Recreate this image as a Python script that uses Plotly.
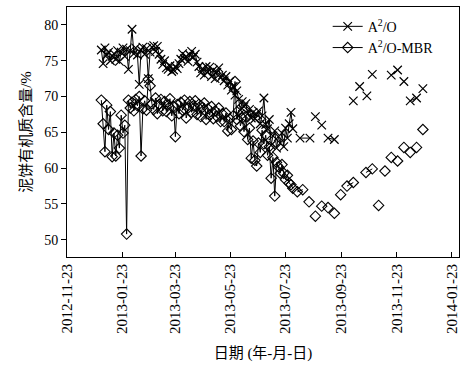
import pandas as pd
import plotly.graph_objects as go

# Dense period: sampled every 2 days starting 2012-12-31
dense_start = "2012-12-31"
dense_step_days = 2
a2o_dense = [
    76.5, 74.6, 76.8, 75.8, 76.2, 75.0, 75.6, 76.0, 75.2, 76.4,
    74.9, 76.2, 76.8, 75.6, 76.6, 73.8, 76.4, 79.4, 76.0, 76.8,
    75.8, 71.7, 76.5, 76.9, 75.9, 76.7, 72.5, 76.2, 76.9, 77.1,
    76.3, 77.0, 75.9, 75.2, 74.5, 75.0, 74.0, 73.8, 74.3, 73.5,
    73.7, 74.2, 73.9, 74.6, 75.2, 76.0, 75.3, 75.6, 74.9, 75.8,
    76.3, 75.5, 75.9, 74.8, 74.2, 73.3, 73.9, 73.0, 74.2, 73.4,
    74.1, 72.8, 73.7, 72.5, 73.4, 74.0, 72.6, 73.0, 72.2, 72.8,
    71.6, 72.1, 70.9, 71.4, 70.2, 70.8, 69.6, 68.1, 69.3, 68.6,
    69.0, 67.6, 68.2, 67.0, 67.8, 66.9, 67.5, 68.0, 66.2, 67.3,
    69.8, 66.1, 65.5, 66.8, 63.2, 64.5, 65.2, 62.8, 64.4, 63.5,
    64.9, 63.0, 65.6, 64.2, 66.2, 67.8, 65.5,
]
mbr_dense = [
    69.5, 66.2, 62.3, 68.8, 65.4, 67.9, 61.6, 64.9, 61.7, 64.6,
    62.8, 67.4, 64.9, 66.0, 50.8, 69.5, 68.4, 69.2, 68.0, 69.6,
    68.7, 70.0, 61.7, 68.3, 69.4, 68.1, 72.4, 71.5, 69.0, 68.2,
    69.8, 67.6, 68.9, 69.6, 68.0, 69.3, 67.9, 68.8, 69.7, 67.3,
    68.6, 64.4, 68.9, 67.6, 69.2, 68.1, 69.5, 67.0, 68.4, 69.3,
    67.8, 68.7, 69.4, 67.5, 68.9, 67.2, 68.5, 69.1, 66.8, 68.3,
    67.4, 68.6, 66.9, 68.0, 67.2, 68.4, 66.5, 67.6, 66.5, 67.7,
    65.2, 66.9, 65.4, 67.3, 72.1, 66.8, 68.1, 65.9, 67.0, 65.1,
    67.2, 64.0, 65.6, 61.4, 63.8, 61.1, 60.3, 63.5, 62.2, 65.3,
    63.4, 64.6, 61.8, 63.0, 58.6, 61.5, 56.1, 60.8, 60.2, 59.3,
    60.5, 59.3, 58.4, 59.0, 57.9, 57.7, 57.2,
]

# Sparse period (None breaks the line between unconnected samples)
a2o_sparse_dates = ["2013-08-08", "2013-08-19", None, "2013-08-25", None, "2013-09-01", None,
                    "2013-09-08", "2013-09-15", None, "2013-10-06", None, "2013-10-13", None,
                    "2013-10-21", None, "2013-10-27", None, "2013-11-17", "2013-11-24", None,
                    "2013-12-01", None, "2013-12-08", "2013-12-15", None, "2013-12-22"]
a2o_sparse = [64.2, 64.2, None, 67.2, None, 66.0, None,
              64.2, 64.0, None, 69.4, None, 71.4, None,
              70.1, None, 73.1, None, 73.0, 73.7, None,
              72.1, None, 69.4, 69.8, None, 71.1]

mbr_sparse_dates = ["2013-08-05", "2013-08-11", None, "2013-08-18", None, "2013-08-25", None,
                    "2013-09-01", None, "2013-09-08", None, "2013-09-15", None, "2013-09-22", None,
                    "2013-09-29", "2013-10-06", None, "2013-10-20", "2013-10-27", None,
                    "2013-11-03", None, "2013-11-10", None, "2013-11-17", None, "2013-11-24", None,
                    "2013-12-01", None, "2013-12-08", None, "2013-12-15", None, "2013-12-22"]
mbr_sparse = [56.7, 57.0, None, 55.3, None, 53.3, None,
              54.7, None, 54.5, None, 53.7, None, 56.3, None,
              57.5, 58.0, None, 59.4, 59.9, None,
              54.8, None, 59.6, None, 61.5, None, 61.0, None,
              62.9, None, 62.2, None, 62.9, None, 65.4]

tick_dates = ["2012-11-23", "2013-01-23", "2013-03-23", "2013-05-23",
              "2013-07-23", "2013-09-23", "2013-11-23", "2014-01-23"]
y_ticks = [50, 55, 60, 65, 70, 75, 80]

dense_dates = [d.strftime("%Y-%m-%d") for d in
               pd.date_range(dense_start, periods=len(a2o_dense), freq=f"{dense_step_days}D")]

a2o_x = dense_dates + [None] + a2o_sparse_dates
a2o_y = a2o_dense + [None] + a2o_sparse
mbr_x = dense_dates + [None] + mbr_sparse_dates
mbr_y = mbr_dense + [None] + mbr_sparse

serif = "Liberation Serif, Times New Roman, Noto Sans CJK SC, serif"

fig = go.Figure()
fig.add_trace(go.Scatter(
    x=a2o_x, y=a2o_y, mode="lines+markers", name="A<sup>2</sup>/O",
    line=dict(color="black", width=1), connectgaps=False,
    marker=dict(symbol="x-thin-open", size=8.5, color="black",
                line=dict(color="black", width=1.2)),
))
fig.add_trace(go.Scatter(
    x=mbr_x, y=mbr_y, mode="lines+markers", name="A<sup>2</sup>/O-MBR",
    line=dict(color="black", width=1), connectgaps=False,
    marker=dict(symbol="diamond-open", size=8, color="black",
                line=dict(color="black", width=1.1)),
))

fig.update_layout(
    width=473, height=367,
    margin=dict(l=67, r=14, t=7, b=110),
    paper_bgcolor="white", plot_bgcolor="white",
    font=dict(family=serif, size=14, color="black"),
    showlegend=True,
    legend=dict(x=0.665, y=0.985, xanchor="left", yanchor="top",
                bgcolor="rgba(0,0,0,0)", font=dict(family=serif, size=14),
                tracegroupgap=0, itemwidth=30),
    xaxis=dict(
        type="date", range=["2012-11-23", "2014-01-31"],
        tickvals=tick_dates, ticktext=tick_dates, tickangle=-90,
        ticks="inside", ticklen=5, tickcolor="black",
        showline=True, linecolor="black", linewidth=1, mirror=True,
        showgrid=False, zeroline=False,
        tickfont=dict(family=serif, size=15),
        title=dict(text="日期 (年-月-日)", font=dict(family=serif, size=15), standoff=14),
    ),
    yaxis=dict(
        range=[47.6, 82.5], tickvals=y_ticks,
        ticks="outside", ticklen=5, tickcolor="black",
        showline=True, linecolor="black", linewidth=1, mirror=True,
        showgrid=False, zeroline=False,
        tickfont=dict(family=serif, size=14),
        title=dict(text="泥饼有机质含量/%", font=dict(family=serif, size=15), standoff=8),
    ),
)

fig.write_html("out.html", config={"displayModeBar": False},
               post_script="document.body.style.margin='0px';")
